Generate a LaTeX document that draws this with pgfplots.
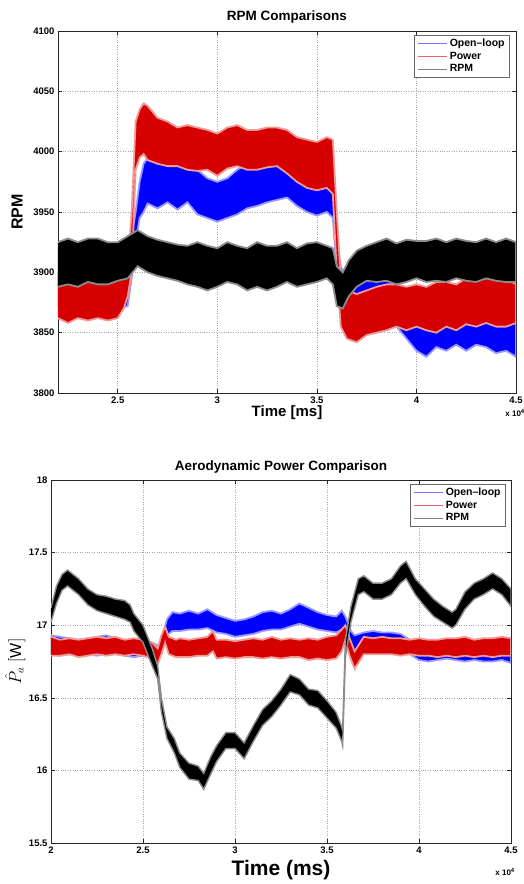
\documentclass[border=0pt]{standalone}
\usepackage{pgfplots}
\pgfplotsset{compat=1.18}
\usepackage{pgfplotstable}
\usepackage{fontspec}
\setmainfont{Liberation Sans}
\definecolor{mblue}{rgb}{0,0,1}
\definecolor{mred}{rgb}{0.84,0,0}
\definecolor{mblack}{rgb}{0,0,0}
\definecolor{legblue}{rgb}{0.45,0.45,1}
\definecolor{legred}{rgb}{0.9,0.4,0.4}
\definecolor{leggray}{rgb}{0.5,0.5,0.5}

% Each band: lower edge left->right, then upper edge right->left (closed polygon)
% ---------- Top chart: RPM ----------
\pgfplotstableread{
x y
22000 3872
22500 3868
23000 3874
23500 3870
24000 3866
24500 3864
25000 3870
25500 3872
25700 3895
25900 3925
26100 3945
26300 3950
26500 3957
27000 3953
27500 3958
28000 3952
28500 3958
29000 3948
29500 3945
30000 3942
30500 3945
31000 3948
31500 3953
32000 3955
32500 3958
33000 3960
33500 3962
34000 3955
34500 3950
35000 3947
35500 3950
35800 3945
36000 3900
36200 3880
36500 3872
37000 3868
37500 3870
38000 3872
38500 3866
39000 3855
39500 3845
40000 3835
40500 3830
41000 3838
41500 3835
42000 3840
42500 3835
43000 3840
43500 3838
44000 3833
44500 3835
45000 3830
45000 3862
44500 3862
44000 3865
43500 3868
43000 3870
42500 3875
42000 3873
41500 3870
41000 3868
40500 3865
40000 3868
39500 3875
39000 3890
38500 3895
38000 3898
37500 3897
37000 3893
36500 3895
36200 3905
36000 3930
35800 3988
35500 3985
35000 3980
34500 3985
34000 3990
33500 3993
33000 3995
32500 3992
32000 3988
31500 3990
31000 3985
30500 3978
30000 3975
29500 3978
29000 3985
28500 3992
28000 3990
27500 3993
27000 3990
26500 3995
26300 3990
26100 3975
25900 3950
25700 3930
25500 3905
25000 3900
24500 3896
24000 3900
23500 3897
23000 3902
22500 3898
22000 3900
}\topblue

\pgfplotstableread{
x y
22000 3862
22500 3858
23000 3862
23500 3860
24000 3862
24500 3860
25000 3862
25300 3870
25500 3880
25700 3900
25900 3985
26100 3995
26300 3998
26500 3993
27000 3990
27500 3988
28000 3988
28500 3985
29000 3984
29500 3985
30000 3980
30500 3986
31000 3988
31500 3985
32000 3985
32500 3987
33000 3988
33500 3982
34000 3975
34500 3970
35000 3968
35500 3970
35800 3965
36000 3900
36200 3855
36500 3845
37000 3842
37500 3848
38000 3850
38500 3852
39000 3855
39500 3852
40000 3855
40500 3852
41000 3850
41500 3855
42000 3852
42500 3857
43000 3855
43500 3858
44000 3855
44500 3855
45000 3858
45000 3890
44500 3895
44000 3898
43500 3895
43000 3893
42500 3895
42000 3890
41500 3892
41000 3892
40500 3888
40000 3890
39500 3888
39000 3890
38500 3890
38000 3888
37500 3885
37000 3882
36500 3885
36200 3895
36000 3950
35800 4010
35500 4012
35000 4008
34500 4010
34000 4012
33500 4018
33000 4020
32500 4020
32000 4018
31500 4018
31000 4022
30500 4020
30000 4015
29500 4018
29000 4020
28500 4022
28000 4020
27500 4025
27000 4028
26500 4038
26300 4040
26100 4035
25900 4025
25700 3950
25500 3905
25300 3898
25000 3895
24500 3895
24000 3898
23500 3896
23000 3897
22500 3895
22000 3898
}\topred

\pgfplotstableread{
x y
22000 3888
22500 3890
23000 3888
23500 3892
24000 3890
24500 3890
25000 3893
25500 3895
26000 3905
26500 3900
27000 3897
27500 3895
28000 3893
28500 3890
29000 3888
29500 3885
30000 3888
30500 3892
31000 3890
31500 3885
32000 3888
32500 3885
33000 3888
33500 3892
34000 3888
34500 3890
35000 3892
35500 3895
35800 3890
36000 3872
36300 3870
36600 3880
37000 3888
37500 3893
38000 3892
38500 3893
39000 3890
39500 3892
40000 3895
40500 3892
41000 3893
41500 3892
42000 3895
42500 3893
43000 3892
43500 3895
44000 3893
44500 3892
45000 3892
45000 3925
44500 3928
44000 3925
43500 3928
43000 3925
42500 3926
42000 3928
41500 3925
41000 3928
40500 3926
40000 3926
39500 3927
39000 3924
38500 3928
38000 3925
37500 3922
37000 3918
36600 3910
36300 3900
36000 3905
35800 3920
35500 3922
35000 3925
34500 3924
34000 3920
33500 3925
33000 3922
32500 3922
32000 3925
31500 3920
31000 3922
30500 3925
30000 3920
29500 3922
29000 3925
28500 3922
28000 3923
27500 3925
27000 3927
26500 3930
26000 3935
25500 3930
25000 3925
24500 3925
24000 3928
23500 3928
23000 3925
22500 3928
22000 3925
}\topblack

% ---------- Bottom chart: aerodynamic power ----------
\pgfplotstableread{
x y
20000 16.80
20500 16.79
21000 16.80
21500 16.79
22000 16.80
22500 16.79
23000 16.80
23500 16.80
24000 16.79
24500 16.78
25000 16.79
25500 16.77
25800 16.76
26000 16.80
26300 16.93
26600 16.96
27000 16.96
27500 16.97
28000 16.97
28500 16.98
29000 16.95
29500 16.94
30000 16.92
30500 16.93
31000 16.94
31500 16.96
32000 16.97
32500 16.97
33000 16.99
33500 17.01
34000 16.99
34500 16.97
35000 16.96
35500 16.95
35800 16.97
36000 16.95
36300 16.85
36500 16.82
37000 16.84
37500 16.85
38000 16.85
38500 16.84
39000 16.83
39500 16.80
40000 16.76
40500 16.75
41000 16.76
41500 16.77
42000 16.76
42500 16.75
43000 16.76
43500 16.75
44000 16.75
44500 16.76
45000 16.74
45000 16.84
44500 16.85
44000 16.84
43500 16.85
43000 16.86
42500 16.85
42000 16.85
41500 16.86
41000 16.86
40500 16.85
40000 16.86
39500 16.90
39000 16.94
38500 16.95
38000 16.95
37500 16.96
37000 16.95
36500 16.93
36300 16.96
36000 17.06
35800 17.10
35500 17.06
35000 17.07
34500 17.09
34000 17.12
33500 17.15
33000 17.11
32500 17.08
32000 17.10
31500 17.09
31000 17.06
30500 17.04
30000 17.03
29500 17.05
29000 17.07
28500 17.11
28000 17.08
27500 17.10
27000 17.08
26600 17.09
26300 17.04
26000 16.90
25800 16.86
25500 16.88
25000 16.90
24500 16.89
24000 16.90
23500 16.91
23000 16.93
22500 16.92
22000 16.91
21500 16.90
21000 16.91
20500 16.92
20000 16.93
}\botblue

\pgfplotstableread{
x y
20000 16.79
20500 16.79
21000 16.80
21500 16.78
22000 16.79
22500 16.80
23000 16.79
23500 16.80
24000 16.79
24500 16.80
25000 16.79
25500 16.77
25800 16.73
26000 16.80
26200 16.88
26400 16.80
26800 16.78
27000 16.78
27500 16.78
28000 16.79
28500 16.79
28800 16.82
29000 16.77
29500 16.78
30000 16.77
30500 16.78
31000 16.78
31500 16.77
32000 16.78
32500 16.77
33000 16.78
33500 16.78
34000 16.76
34500 16.77
35000 16.76
35500 16.77
35800 16.82
36000 16.90
36200 16.80
36500 16.70
36800 16.76
37000 16.80
37500 16.80
38000 16.80
38500 16.80
39000 16.79
39500 16.80
40000 16.79
40500 16.79
41000 16.78
41500 16.79
42000 16.78
42500 16.79
43000 16.78
43500 16.79
44000 16.78
44500 16.79
45000 16.79
45000 16.91
44500 16.92
44000 16.91
43500 16.91
43000 16.90
42500 16.92
42000 16.91
41500 16.91
41000 16.90
40500 16.90
40000 16.91
39500 16.90
39000 16.91
38500 16.91
38000 16.92
37500 16.91
37000 16.92
36800 16.88
36500 16.82
36200 16.92
36000 17.00
35800 16.97
35500 16.93
35000 16.92
34500 16.90
34000 16.91
33500 16.90
33000 16.91
32500 16.90
32000 16.92
31500 16.90
31000 16.91
30500 16.90
30000 16.89
29500 16.90
29000 16.90
28800 16.96
28500 16.92
28000 16.91
27500 16.90
27000 16.91
26800 16.90
26400 16.92
26200 16.99
26000 16.93
25800 16.84
25500 16.88
25000 16.90
24500 16.91
24000 16.90
23500 16.92
23000 16.91
22500 16.92
22000 16.91
21500 16.90
21000 16.91
20500 16.90
20000 16.92
}\botred

\pgfplotstableread{
x y
20000 17.02
20300 17.15
20600 17.24
20900 17.27
21200 17.24
21500 17.21
22000 17.14
22500 17.10
23000 17.08
23500 17.06
24000 17.04
24300 17.02
24500 16.96
25000 16.88
25500 16.72
25800 16.63
26000 16.40
26300 16.22
26700 16.12
27000 16.02
27500 15.94
28000 15.93
28300 15.87
28700 15.98
29000 16.06
29500 16.15
30000 16.15
30500 16.08
31000 16.20
31500 16.31
32000 16.37
32500 16.45
33000 16.54
33500 16.52
34000 16.45
34500 16.43
35000 16.36
35500 16.29
35800 16.20
35850 16.17
36000 16.78
36300 17.02
36700 17.21
37000 17.23
37500 17.18
38000 17.18
38500 17.21
39000 17.29
39300 17.32
39800 17.21
40300 17.13
40800 17.06
41300 17.02
41800 16.98
42000 17.00
42500 17.11
43000 17.18
43500 17.21
44000 17.25
44500 17.21
45000 17.13
45000 17.25
44500 17.32
44000 17.36
43500 17.32
43000 17.29
42500 17.23
42000 17.11
41800 17.09
41300 17.13
40800 17.18
40300 17.25
39800 17.32
39300 17.44
39000 17.41
38500 17.32
38000 17.29
37500 17.29
37000 17.34
36700 17.32
36300 17.13
36000 16.90
35850 16.28
35800 16.30
35500 16.40
35000 16.48
34500 16.55
34000 16.56
33500 16.63
33000 16.66
32500 16.56
32000 16.48
31500 16.42
31000 16.31
30500 16.19
30000 16.26
29500 16.26
29000 16.17
28700 16.10
28300 15.98
28000 16.03
27500 16.05
27000 16.12
26700 16.22
26300 16.30
26000 16.50
25800 16.72
25500 16.84
25000 17.00
24500 17.08
24300 17.14
24000 17.17
23500 17.18
23000 17.20
22500 17.21
22000 17.25
21500 17.32
21200 17.35
20900 17.38
20600 17.35
20300 17.27
20000 17.12
}\botblack

\pgfplotsset{
  matlab/.style={
    scale only axis,
    axis line style={black!85, line width=0.6pt},
    tick align=inside,
    major tick length=4pt,
    tick style={black!85, line width=0.5pt},
    grid=major,
    major grid style={dotted, gray!70, line width=0.5pt},
    scaled ticks=false,
    /pgf/number format/assume math mode=true,
    /pgf/number format/1000 sep={},
    tick label style={font=\bfseries\fontsize{9.5}{11}\selectfont},
    legend style={at={(1,1)}, anchor=north east, draw=black!60, line width=0.8pt,
      font=\bfseries\fontsize{10.5}{13}\selectfont, cells={anchor=west},
      inner xsep=3pt, inner ysep=1.5pt},
    legend image code/.code={\draw[##1] (0pt,0pt) -- (29pt,0pt);},
  },
}

\begin{document}
\begin{tikzpicture}
\useasboundingbox (0,0) rectangle (524pt,884pt);

% ---------------- top axis ----------------
\begin{axis}[matlab,
  at={(58pt,491pt)}, anchor=south west,
  width=458pt, height=362pt,
  xmin=22000, xmax=45000, ymin=3800, ymax=4100,
  xtick={25000,30000,35000,40000,45000},
  xticklabels={2.5,3,3.5,4,4.5},
  ytick={3800,3850,3900,3950,4000,4050,4100},
  yticklabels={3800,3850,3900,3950,4000,4050,4100},
  title={RPM Comparisons},
  title style={at={(0.5,1)}, anchor=center, yshift=8pt, font=\bfseries\fontsize{13.5}{15}\selectfont},
  xlabel={Time [ms]},
  xlabel style={at={(0.5,0)}, anchor=center, yshift=-20pt, font=\bfseries\fontsize{15}{17}\selectfont},
  ylabel={RPM},
  ylabel style={at={(-0.0895,0.5)}, anchor=center, font=\bfseries\fontsize{16}{18}\selectfont},
  legend style={xshift=-6pt, yshift=-4pt},
]
\addplot[fill=mblue, draw=mblue!40, line width=1.8pt, forget plot] table[x=x,y=y]{\topblue};
\addplot[fill=mred, draw=mred!40, line width=1.8pt, forget plot] table[x=x,y=y]{\topred};
\addplot[fill=mblack, draw=mblack!45, line width=1.8pt, forget plot] table[x=x,y=y]{\topblack};
\addlegendimage{draw=legblue, line width=1.1pt}\addlegendentry{Open--loop}
\addlegendimage{draw=legred, line width=1.1pt}\addlegendentry{Power}
\addlegendimage{draw=leggray, line width=1.1pt}\addlegendentry{RPM}
\end{axis}
\node[anchor=east, font=\bfseries\fontsize{8}{9}\selectfont, inner sep=0pt] at (525pt,471pt) {x 10\textsuperscript{4}};

% ---------------- bottom axis ----------------
\begin{axis}[matlab,
  at={(51pt,41pt)}, anchor=south west,
  width=460pt, height=363pt,
  xmin=20000, xmax=45000, ymin=15.5, ymax=18,
  xtick={20000,25000,30000,35000,40000,45000},
  xticklabels={2,2.5,3,3.5,4,4.5},
  ytick={15.5,16,16.5,17,17.5,18},
  yticklabels={15.5,16,16.5,17,17.5,18},
  title={Aerodynamic Power Comparison},
  title style={at={(0.5,1)}, anchor=center, yshift=7pt, font=\bfseries\fontsize{13.5}{15}\selectfont},
  xlabel={Time (ms)},
  xlabel style={at={(0.5,0)}, anchor=center, yshift=-27pt, font=\bfseries\fontsize{21}{24}\selectfont},
  ylabel={$\hat{P}_a\;[\mathrm{W}]$},
  ylabel style={at={(-0.078,0.5)}, anchor=center, font=\fontsize{16}{18}\selectfont},
  legend style={xshift=-5pt, yshift=-4pt},
]
\addplot[fill=mblue, draw=mblue!40, line width=1.8pt, forget plot] table[x=x,y=y]{\botblue};
\addplot[fill=mred, draw=mred!40, line width=1.8pt, forget plot] table[x=x,y=y]{\botred};
\addplot[fill=mblack, draw=mblack!45, line width=1.4pt, forget plot] table[x=x,y=y]{\botblack};
\addlegendimage{draw=legblue, line width=1.1pt}\addlegendentry{Open--loop}
\addlegendimage{draw=legred, line width=1.1pt}\addlegendentry{Power}
\addlegendimage{draw=leggray, line width=1.1pt}\addlegendentry{RPM}
\end{axis}
\node[anchor=east, font=\bfseries\fontsize{8}{9}\selectfont, inner sep=0pt] at (515pt,12pt) {x 10\textsuperscript{4}};
\end{tikzpicture}
\end{document}
